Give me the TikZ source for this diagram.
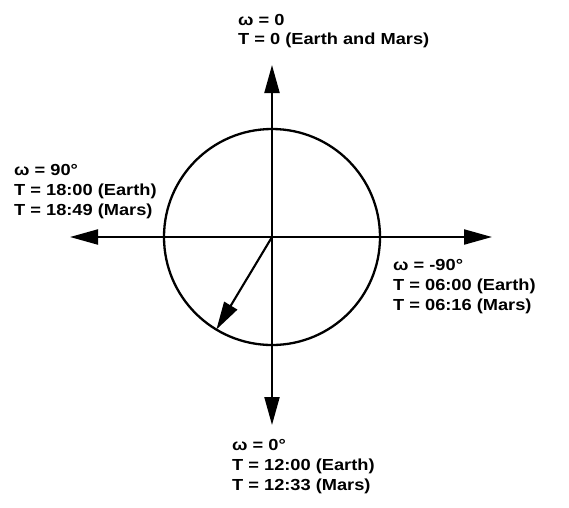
\documentclass[tikz,border=0pt]{standalone}
\usepackage{fontspec}
\newfontfamily\lblfont[FakeStretch=1.14]{Liberation Sans}
\usetikzlibrary{arrows.meta}
\begin{document}
\begin{tikzpicture}[x=1pt,y=-1pt,
  axis/.style={line width=2.1pt,-{Triangle[length=28pt,width=15pt]}},
  ring/.style={line width=2.3pt},
  lbl/.style={anchor=base west,inner sep=0pt,font=\lblfont\bfseries\fontsize{16}{20}\selectfont}]
\useasboundingbox (0,0) rectangle (569,507);
\coordinate (c) at (272,237);
\coordinate (top) at (272,65);
\coordinate (bot) at (272,425);
\coordinate (lft) at (70,237);
\coordinate (rgt) at (492,237);
\draw[ring] (c) circle[radius=108];
\draw[axis] (c) -- (top);
\draw[axis] (c) -- (bot);
\draw[axis] (c) -- (lft);
\draw[axis] (c) -- (rgt);
\draw[axis] (c) -- ++(121:108) coordinate (d);
% top labels
\node[lbl] (t1) at (238,25) {ω = 0};
\node[lbl] (t2) at (238,44) {T = 0 (Earth and Mars)};
% left labels
\node[lbl] (l1) at (14,175) {ω = 90°};
\node[lbl] (l2) at (14,195) {T = 18:00 (Earth)};
\node[lbl] (l3) at (14,215) {T = 18:49 (Mars)};
% right labels
\node[lbl] (r1) at (393,270) {ω = -90°};
\node[lbl] (r2) at (393,290) {T = 06:00 (Earth)};
\node[lbl] (r3) at (393,310) {T = 06:16 (Mars)};
% bottom labels
\node[lbl] (b1) at (232,450) {ω = 0°};
\node[lbl] (b2) at (232,470) {T = 12:00 (Earth)};
\node[lbl] (b3) at (232,490) {T = 12:33 (Mars)};
\end{tikzpicture}
\end{document}
